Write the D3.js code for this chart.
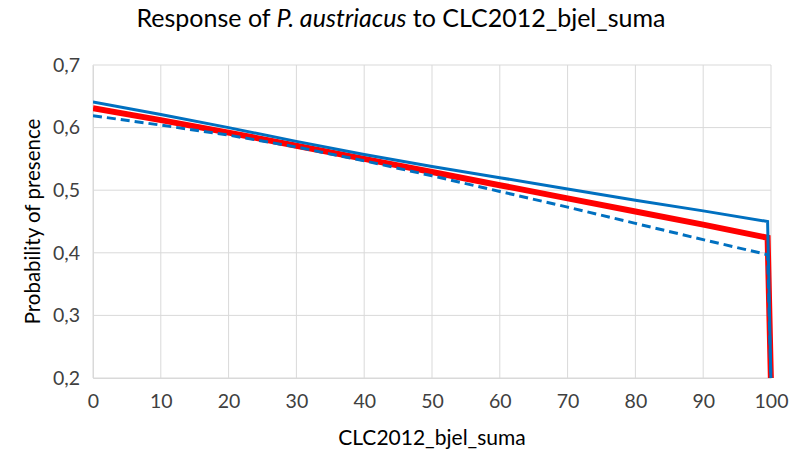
<!DOCTYPE html>
<html>
<head>
<meta charset="utf-8">
<script src="https://cdn.jsdelivr.net/npm/d3@7"></script>
<style>
  body { margin: 0; background: #fff; }
  text { font-family: Lato, "Open Sans", sans-serif; }
</style>
</head>
<body>
<div id="chart"></div>
<script>
// values
let x_values = [0, 10, 20, 30, 40, 50, 60, 70, 80, 90, 99.5, 100];
let mean_values = [0.631, 0.612, 0.592, 0.571, 0.55, 0.529, 0.508, 0.487, 0.466, 0.445, 0.424, 0.19];
let upper_values = [0.641, 0.621, 0.6, 0.578, 0.557, 0.538, 0.52, 0.502, 0.484, 0.467, 0.45, 0.19];
let lower_values = [0.619, 0.604, 0.588, 0.569, 0.547, 0.523, 0.498, 0.473, 0.447, 0.421, 0.397, 0.19];
let x_ticks = [0, 10, 20, 30, 40, 50, 60, 70, 80, 90, 100];
let y_ticks = [0.2, 0.3, 0.4, 0.5, 0.6, 0.7];

let width = 796,
  height = 451;
let margin = { top: 65, right: 25, bottom: 73, left: 93 };

let svg = d3
  .select("#chart")
  .append("svg")
  .attr("width", width)
  .attr("height", height);

let x = d3
  .scaleLinear()
  .domain([0, 100])
  .range([margin.left, width - margin.right]);
let y = d3
  .scaleLinear()
  .domain([0.2, 0.7])
  .range([height - margin.bottom, margin.top]);

svg
  .append("defs")
  .append("clipPath")
  .attr("id", "plot-clip")
  .append("rect")
  .attr("x", margin.left)
  .attr("y", margin.top)
  .attr("width", width - margin.left - margin.right + 4)
  .attr("height", height - margin.top - margin.bottom);

// gridlines
svg
  .append("g")
  .selectAll("line")
  .data(y_ticks)
  .enter()
  .append("line")
  .attr("x1", margin.left)
  .attr("x2", width - margin.right)
  .attr("y1", (d) => y(d))
  .attr("y2", (d) => y(d))
  .attr("stroke", "#d9d9d9")
  .attr("stroke-width", 1);

svg
  .append("g")
  .selectAll("line")
  .data(x_ticks)
  .enter()
  .append("line")
  .attr("x1", (d) => x(d))
  .attr("x2", (d) => x(d))
  .attr("y1", margin.top)
  .attr("y2", height - margin.bottom)
  .attr("stroke", "#d9d9d9")
  .attr("stroke-width", 1);

// axes
let x_axis = svg
  .append("g")
  .attr("transform", "translate(0," + (height - margin.bottom) + ")")
  .call(
    d3.axisBottom(x).tickValues(x_ticks).tickSize(0).tickPadding(16).tickFormat(d3.format("d"))
  );
let y_axis = svg
  .append("g")
  .attr("transform", "translate(" + margin.left + ",0)")
  .call(
    d3.axisLeft(y).tickValues(y_ticks).tickSize(0).tickPadding(13).tickFormat((d) => d3.format(".1f")(d).replace(".", ","))
  );

[x_axis, y_axis].forEach((a) => {
  a.select(".domain").attr("stroke", "#d9d9d9");
  a.selectAll("text").attr("fill", "#404040").attr("font-size", "19.5px");
});

// lines
let line = d3
  .line()
  .x((d, i) => x(x_values[i]))
  .y((d) => y(d));

let plot = svg.append("g").attr("clip-path", "url(#plot-clip)");

plot
  .append("path")
  .datum(mean_values)
  .attr("d", line)
  .attr("fill", "none")
  .attr("stroke", "#ff0000")
  .attr("stroke-width", 6);

plot
  .append("path")
  .datum(upper_values)
  .attr("d", line)
  .attr("fill", "none")
  .attr("stroke", "#0070c0")
  .attr("stroke-width", 3);

plot
  .append("path")
  .datum(lower_values)
  .attr("d", line)
  .attr("fill", "none")
  .attr("stroke", "#0070c0")
  .attr("stroke-width", 3)
  .attr("stroke-dasharray", "9,5");

// titles
let title = svg
  .append("text")
  .attr("x", 401)
  .attr("y", 27)
  .attr("text-anchor", "middle")
  .attr("font-size", "25px")
  .attr("fill", "#000");
title.append("tspan").text("Response of ");
title.append("tspan").attr("font-style", "italic").text("P. austriacus");
title.append("tspan").text(" to CLC2012_bjel_suma");

svg
  .append("text")
  .attr("x", 432)
  .attr("y", 445)
  .attr("text-anchor", "middle")
  .attr("font-size", "21px")
  .attr("fill", "#000")
  .text("CLC2012_bjel_suma");

svg
  .append("text")
  .attr("transform", "translate(40," + (margin.top + height - margin.bottom) / 2 + ") rotate(-90)")
  .attr("text-anchor", "middle")
  .attr("font-size", "20.5px")
  .attr("fill", "#000")
  .text("Probability of presence");
</script>
</body>
</html>
